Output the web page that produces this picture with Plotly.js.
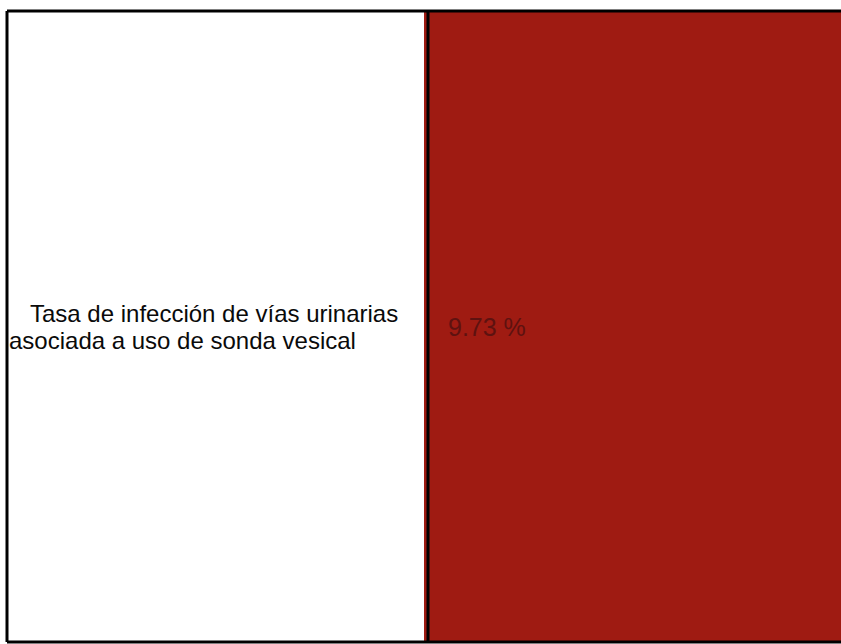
<!DOCTYPE html>
<html>
<head>
<meta charset="utf-8">
<script src="https://cdn.plot.ly/plotly-3.0.1.min.js"></script>
<style>html,body{margin:0;padding:0;background:#fff;}#chart{width:841px;height:644px;}</style>
</head>
<body>
<div id="chart"></div>
<script>
// Data
const indicatorLabel = ["Tasa de infección de vías urinarias", "asociada a uso de sonda vesical"];
const indicatorValue = [9.73];
const valueUnit = "%";
const cellLevels = [0, 1]; // white label cell, red value cell

const colEdges = [0, 421, 834];

const trace = {
  type: 'heatmap',
  x: colEdges,
  y: [0, 1],
  z: [cellLevels],
  zmin: 0, zmax: 1,
  colorscale: [[0, '#ffffff'], [1, '#9f1b12']],
  showscale: false,
  hoverinfo: 'skip'
};

const FONT = 'Liberation Sans, Arial, sans-serif';
const BORDER = {color: '#000', width: 3};
const layout = {
  width: 841, height: 644,
  margin: {l: 7, r: 0, t: 11, b: 2, pad: 0},
  paper_bgcolor: '#ffffff', plot_bgcolor: '#ffffff',
  xaxis: {range: [0, 834], visible: false, fixedrange: true},
  yaxis: {range: [0, 1], visible: false, fixedrange: true},
  showlegend: false,
  shapes: [
    {type: 'line', xref: 'paper', yref: 'paper', x0: 0, x1: 1, y0: 1, y1: 1, line: BORDER},
    {type: 'line', xref: 'paper', yref: 'paper', x0: 0, x1: 1, y0: 0, y1: 0, line: BORDER},
    {type: 'line', xref: 'paper', yref: 'paper', x0: 0, x1: 0, y0: 0, y1: 1, line: BORDER},
    {type: 'line', xref: 'x', yref: 'paper', x0: colEdges[1], x1: colEdges[1], y0: 0, y1: 1, line: BORDER}
  ],
  annotations: [
    {xref: 'x', yref: 'y', x: 21, y: 0.5, xanchor: 'left', yanchor: 'middle', yshift: 13,
     text: indicatorLabel[0], showarrow: false, align: 'left',
     font: {family: FONT, size: 24, color: '#0a0a0a'}},
    {xref: 'x', yref: 'y', x: 0, y: 0.5, xanchor: 'left', yanchor: 'middle', yshift: -14,
     text: indicatorLabel[1], showarrow: false, align: 'left',
     font: {family: FONT, size: 24, color: '#0a0a0a'}},
    {xref: 'x', yref: 'y', x: 439, y: 0.5, xanchor: 'left', yanchor: 'middle', yshift: 0,
     text: indicatorValue[0].toFixed(2) + ' ' + valueUnit, showarrow: false,
     font: {family: FONT, size: 25, color: '#5e1210'}}
  ]
};

Plotly.newPlot('chart', [trace], layout, {displayModeBar: false, staticPlot: true});
</script>
</body>
</html>
